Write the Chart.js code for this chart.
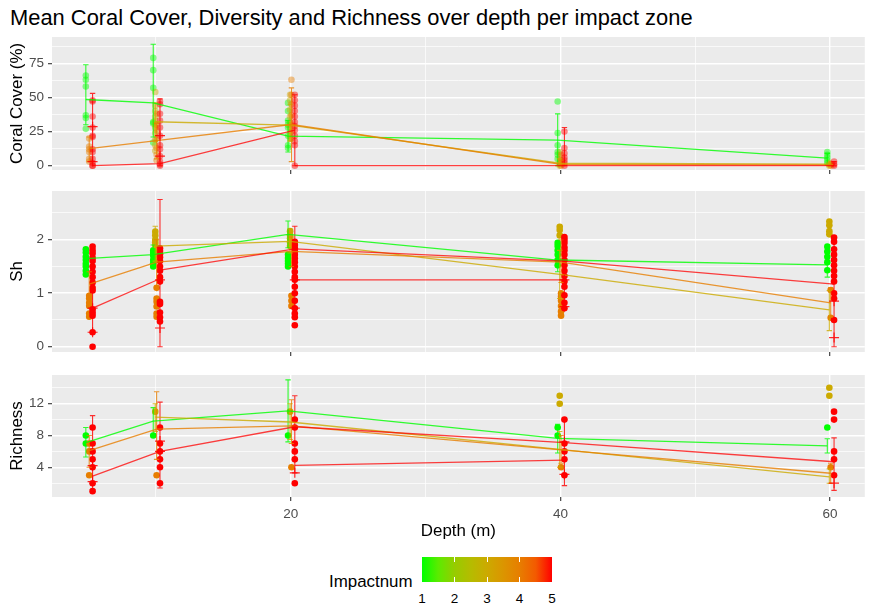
<!DOCTYPE html>
<html>
<head>
<meta charset="utf-8">
<script src="https://cdn.jsdelivr.net/npm/chart.js@4.4.0/dist/chart.umd.min.js"></script>
<style>
html,body{margin:0;padding:0;background:#fff;width:871px;height:606px;overflow:hidden;font-family:'Liberation Sans',Arial,sans-serif;}
canvas{position:absolute;left:0;}
#title{position:absolute;left:10px;top:7px;font-size:21.9px;line-height:1;color:#000;white-space:nowrap;}
#legTitle{position:absolute;left:329px;top:574px;font-size:16.9px;line-height:1;color:#000;white-space:nowrap;}
#bar{position:absolute;left:422px;top:557px;width:130px;height:25px;
background:linear-gradient(to right,#00FF00 0%,#5CEB00 12.5%,#96CC00 25%,#B5BC00 37.5%,#CCAA00 50%,#DB9500 62.5%,#E77E00 75%,#F35A00 87.5%,#FF0000 100%);}
.tk{position:absolute;width:1px;height:5px;background:#fff;}
.lb{position:absolute;top:592px;font-size:13.5px;line-height:1;color:#000;transform:translateX(-50%);}
</style>
</head>
<body>
<div id="title">Mean Coral Cover, Diversity and Richness over depth per impact zone</div>
<canvas id="c1" width="871" height="148" style="top:30px"></canvas>
<canvas id="c2" width="871" height="176" style="top:184px"></canvas>
<canvas id="c3" width="871" height="177" style="top:368px"></canvas>
<div id="legTitle">Impactnum</div>
<div id="bar"></div>
<div id="legendTicks"></div>
<script>
// ---------- shared categories ----------
const depths = [5, 10, 20, 40, 60];
const impactZones = [1, 3, 4, 5];
const zoneColors = ['#00FF00', '#CCAA00', '#E77E00', '#FF0000'];
const zoneDodge = [-0.2, -0.05, 0.05, 0.3];
const legendValues = [1, 2, 3, 4, 5];

const xTicks = [10, 20, 30, 40, 50, 60];
const xLabels = [20, 40, 60];

// ---------- Coral cover ----------
const coralTicks = [0, 12.5, 25, 37.5, 50, 62.5, 75, 87.5];
const coralLabels = [0, 25, 50, 75];
const coralPtsZ1 = [[66,63,58,37,35,27],[79,70,57,32,31,17],[46,40,33,30,28,22,15,13],[47,24,15,10,8,5],[10,8,6,4,2]];
const coralPtsZ3 = [[],[54,44,40,36,33,30,28,24,19,15,11],[52,48,41,36,32,28,24,20],[10,6,3,1,0],[2,1,0]];
const coralPtsZ4 = [[20,14,12,10,5,3],[38,30,26,20,13,8,4],[63,52,45,37,30,25,20],[8,4,2,0],[1,0]];
const coralPtsZ5 = [[48,47,36,28,22,21,12,10,5,2,0,0],[47,45,38,33,28,22,15,12,7,3,1,0],[52,48,44,40,36,32,29,26,22,18,15,0],[25,13,9,6,4,2,0],[3,1,0]];
const coralMeanZ1 = [48.5, 46, 21.7, 18.8, 5.6];
const coralMeanZ3 = [null, 32.2, 29.8, 1.8, 1.2];
const coralMeanZ4 = [12.5, 18.3, 30.2, 1.0, 0.6];
const coralMeanZ5a = [0, 1.5, 26, null, null];
const coralMeanZ5b = [null, null, 0, 0, 0];
const coralErrZ1 = [[30,74],[21,89],[10,33],[0,38],[1,9]];
const coralErrZ3 = [null,[18,46],[18,45],[0,5],[0,2]];
const coralErrZ4 = [[3,21],[5,31],[3,57],[0,4],[0,1]];
const coralErrZ5 = [[3,53],[0,49],[0,52],[0,28],[0,3]];
const coralMarksZ5 = [[28.6,3],[22,7],[],[],[]];

// ---------- Shannon diversity ----------
const shTicks = [0, 0.5, 1, 1.5, 2, 2.5];
const shLabels = [0, 1, 2];
const shPtsZ1 = [[1.82,1.76,1.68,1.62,1.55,1.5,1.42,1.35],[1.8,1.75,1.7,1.62,1.56,1.5],[1.72,1.66,1.6,1.55,1.5],[1.94,1.88,1.8,1.72,1.62,1.52],[1.87,1.78,1.68,1.58,1.43]];
const shPtsZ3 = [[],[2.15,2.08,2.0,1.95,1.9],[2.16,2.08,2.02,1.95,1.88],[2.24,2.18,2.08],[2.34,2.27,2.16,2.1]];
const shPtsZ4 = [[0.95,0.9,0.82,0.76,0.62,0.56],[1.1,0.9,0.84,0.75,0.62,0.56],[0.95,0.86,0.76],[1.0,0.94,0.86,0.76,0.66,0.58],[1.06,0.54]];
const shPtsZ5 = [[1.87,1.8,1.74,1.66,1.6,1.5,1.4,1.3,1.2,1.1,1.05,0.7,0.64,0.58,0.27,0.0],[1.84,1.79,1.73,1.67,1.6,1.5,1.42,1.3,1.22,0.84,0.8,0.64,0.55,0.47],[1.96,1.9,1.84,1.78,1.72,1.65,1.58,1.5,1.4,1.3,1.25,1.12,1.0,0.86,0.72,0.62,0.55,0.4],[2.05,2.0,1.94,1.86,1.8,1.72,1.62,1.52,1.42,1.32,1.22,1.12,0.96,0.82,0.72],[2.04,1.96,1.82,1.72,1.62,1.52,1.42,1.32,1.22,1.0,0.9,0.5]];
const shMeanZ1 = [1.645, 1.72, 2.1, 1.62, 1.53];
const shMeanZ3 = [null, 1.88, 1.97, 1.35, 0.69];
const shMeanZ4 = [1.17, 1.58, 1.78, 1.58, 0.82];
const shMeanZ5a = [0.72, 1.27, null, null, null];
const shMeanZ5b = [null, 1.43, 1.83, 1.6, 1.17];
const shMeanZ5c = [null, null, 1.25, 1.25, null];
const shErrZ1 = [[1.43,1.83],[1.5,1.9],[1.85,2.35],[1.4,1.85],[1.3,1.75]];
const shErrZ3 = [null,[1.6,2.25],[1.75,2.2],[0.9,1.8],[0.3,1.05]];
const shErrZ4 = [[0.9,1.4],[1.1,2.0],[1.5,2.05],[1.2,2.0],[0.55,1.1]];
const shErrZ5 = [[0.27,1.2],[0,2.75],[0.72,2.25],[0.75,2.0],[0,2.0]];
const shMarksZ5 = [[0.27,0.72],[0.35,1.25],[0.72,1.25],[0.75,1.25],[0.17,0.85]];

// ---------- Richness ----------
const richTicks = [2, 4, 6, 8, 10, 12, 14];
const richLabels = [4, 8, 12];
const richPtsZ1 = [[8,7],[8],[8],[9,8],[9]];
const richPtsZ3 = [[],[11],[11],[13,12],[14,13]];
const richPtsZ4 = [[7,6,3],[3],[4],[4],[4]];
const richPtsZ5 = [[9,7,6,5,4,2,1],[9,7,6,5,4,2],[10,9,7,6,5,2],[10,7,6,5,3],[11,10,6,5,3]];
const richMeanZ1 = [7.1, 9.8, 11.1, 7.65, 6.7];
const richMeanZ3 = [null, 10.3, 9.7, 6.26, 2.8];
const richMeanZ4 = [6.1, 8.8, 9.2, 6.2, 3.25];
const richMeanZ5a = [2.9, 6.0, 9.1, 7.1, 4.7];
const richMeanZ5b = [null, null, 4.25, 4.9, null];
const richErrZ1 = [[5.3,9.0],[8,11.5],[7.2,15],[5.8,9.4],[5.8,7.6]];
const richErrZ3 = [null,[8.5,12],[7.5,12],[4,8.5],[2,3.8]];
const richErrZ4 = [[4,8],[5,13.5],[7,12.5],[4.5,8],[2,4.5]];
const richErrZ5 = [[1.2,10.5],[1.4,12.2],[3.3,13],[1.7,10],[1.1,7.7]];
const richMarksZ5 = [[4.2,2.2],[7.3,6.0],[3.3],[3.1,7.2],[2.0]];

// ---------- helpers ----------
const FAMILY = "'Liberation Sans', Arial, sans-serif";
function rgba(hex, a) {
  const n = parseInt(hex.slice(1), 16);
  return 'rgba(' + ((n >> 16) & 255) + ',' + ((n >> 8) & 255) + ',' + (n & 255) + ',' + a + ')';
}

const panelBg = {
  id: 'panelBg',
  beforeDraw(chart) {
    const a = chart.chartArea, ctx = chart.ctx;
    ctx.save();
    ctx.fillStyle = '#EBEBEB';
    ctx.fillRect(a.left, a.top, a.right - a.left, a.bottom - a.top);
    ctx.restore();
  }
};

function buildDatasets(p) {
  const ds = [];
  p.pts.forEach((grp, gi) => {
    const data = [];
    grp.forEach((vals, di) => vals.forEach(v => data.push({x: depths[di] + zoneDodge[gi], y: v})));
    ds.push({data, showLine: false, pointRadius: 3.3, pointBorderWidth: 0,
      pointBackgroundColor: rgba(zoneColors[gi], p.pointAlpha), order: 40 - gi});
  });
  p.errs.forEach((grp, gi) => {
    const data = [];
    const cap = 0.2;
    grp.forEach((e, di) => {
      if (!e) return;
      const x = depths[di] + zoneDodge[gi];
      data.push({x, y: e[0]}, {x, y: e[1]}, {x, y: null});
      data.push({x: x - cap, y: e[1]}, {x: x + cap, y: e[1]}, {x, y: null});
      data.push({x: x - cap, y: e[0]}, {x: x + cap, y: e[0]}, {x, y: null});
    });
    ds.push({data, showLine: true, spanGaps: false, pointRadius: 0, borderWidth: 1.1,
      borderColor: rgba(zoneColors[gi], 0.8), order: 20 - gi});
  });
  p.means.forEach((m, gi) => {
    ds.push({data: depths.map((d, i) => ({x: d + zoneDodge[gi], y: m[i]})), showLine: true, spanGaps: false,
      pointRadius: 0, borderWidth: 1.3, borderColor: rgba(zoneColors[gi], 0.8), order: 10 - gi});
  });
  p.redMeans.forEach((m) => {
    ds.push({data: depths.map((d, i) => ({x: d + zoneDodge[3], y: m[i]})), showLine: true, spanGaps: false,
      pointRadius: 0, borderWidth: 1.3, borderColor: rgba(zoneColors[3], 0.75), order: 6});
  });
  const mk = [];
  p.marks.forEach((vals, di) => vals.forEach(v => mk.push({x: depths[di] + zoneDodge[3], y: v})));
  ds.push({data: mk, showLine: false, pointStyle: 'cross', pointRadius: 5, pointBorderWidth: 1.2,
    pointBorderColor: rgba(zoneColors[3], 0.85), order: 5});
  return ds;
}

function makePanel(p) {
  const font = {family: FAMILY, size: 13.5};
  new Chart(document.getElementById(p.id), {
    type: 'scatter',
    data: {datasets: buildDatasets(p)},
    options: {
      responsive: false, animation: false, devicePixelRatio: 1, events: [],
      layout: {padding: {top: 7, left: 0, right: 2, bottom: 0}},
      plugins: {legend: {display: false}, tooltip: {enabled: false}, title: {display: false}},
      scales: {
        x: {
          type: 'linear', min: 2.29, max: 62.58,
          afterBuildTicks: s => { s.ticks = xTicks.map(v => ({value: v})); },
          afterFit: s => { s.height = p.xAxisHeight; s.paddingLeft = 0; s.paddingRight = 0; },
          border: {display: false},
          grid: {
            color: '#FFFFFF',
            lineWidth: c => (c.tick && xLabels.includes(c.tick.value)) ? 1.4 : 0.7,
            tickColor: c => (c.tick && xLabels.includes(c.tick.value)) ? '#333333' : 'rgba(0,0,0,0)',
            tickLength: 4, tickWidth: 1.1
          },
          ticks: {autoSkip: false, maxRotation: 0, minRotation: 0, padding: 5, color: '#4D4D4D', font,
            callback: v => (p.showX && xLabels.includes(v)) ? String(v) : ''},
          title: {display: p.showX, text: 'Depth (m)', color: '#000', font: {family: FAMILY, size: 16.9},
            padding: {top: 0, bottom: 4}}
        },
        y: {
          type: 'linear', min: p.yMin, max: p.yMax,
          afterBuildTicks: s => { s.ticks = p.yTicks.map(v => ({value: v})); },
          afterFit: s => { s.width = 52; s.paddingTop = 0; s.paddingBottom = 0; },
          border: {display: false},
          grid: {
            color: '#FFFFFF',
            lineWidth: c => (c.tick && p.yLabels.includes(c.tick.value)) ? 1.4 : 0.7,
            tickColor: c => (c.tick && p.yLabels.includes(c.tick.value)) ? '#333333' : 'rgba(0,0,0,0)',
            tickLength: 4, tickWidth: 1.1
          },
          ticks: {autoSkip: false, padding: 4, color: '#4D4D4D', font,
            callback: v => p.yLabels.includes(v) ? String(v) : ''},
          title: {display: true, text: p.yTitle, color: '#000', font: {family: FAMILY, size: 16.9},
            padding: {top: 7, bottom: 0}}
        }
      }
    },
    plugins: [panelBg]
  });
}

makePanel({id: 'c1', yTitle: 'Coral Cover (%)', yMin: -3.15, yMax: 94.3, yTicks: coralTicks, yLabels: coralLabels,
  pts: [coralPtsZ1, coralPtsZ3, coralPtsZ4, coralPtsZ5], errs: [coralErrZ1, coralErrZ3, coralErrZ4, coralErrZ5],
  means: [coralMeanZ1, coralMeanZ3, coralMeanZ4], redMeans: [coralMeanZ5a, coralMeanZ5b], marks: coralMarksZ5,
  pointAlpha: 0.45, xAxisHeight: 8, showX: false});
makePanel({id: 'c2', yTitle: 'Sh', yMin: -0.099, yMax: 2.91, yTicks: shTicks, yLabels: shLabels,
  pts: [shPtsZ1, shPtsZ3, shPtsZ4, shPtsZ5], errs: [shErrZ1, shErrZ3, shErrZ4, shErrZ5],
  means: [shMeanZ1, shMeanZ3, shMeanZ4], redMeans: [shMeanZ5a, shMeanZ5b, shMeanZ5c], marks: shMarksZ5,
  pointAlpha: 1, xAxisHeight: 8, showX: false});
makePanel({id: 'c3', yTitle: 'Richness', yMin: 0.264, yMax: 15.61, yTicks: richTicks, yLabels: richLabels,
  pts: [richPtsZ1, richPtsZ3, richPtsZ4, richPtsZ5], errs: [richErrZ1, richErrZ3, richErrZ4, richErrZ5],
  means: [richMeanZ1, richMeanZ3, richMeanZ4], redMeans: [richMeanZ5a, richMeanZ5b], marks: richMarksZ5,
  pointAlpha: 1, xAxisHeight: 48, showX: true});

const lt = document.getElementById('legendTicks');
legendValues.forEach((v, i) => {
  const x = 422 + i * 32.5;
  if (i > 0 && i < legendValues.length - 1) {
    lt.insertAdjacentHTML('beforeend', '<div class="tk" style="left:' + (x - 0.5) + 'px;top:557px"></div>' +
      '<div class="tk" style="left:' + (x - 0.5) + 'px;top:577px"></div>');
  }
  lt.insertAdjacentHTML('beforeend', '<div class="lb" style="left:' + x + 'px">' + v + '</div>');
});
</script>
</body>
</html>
